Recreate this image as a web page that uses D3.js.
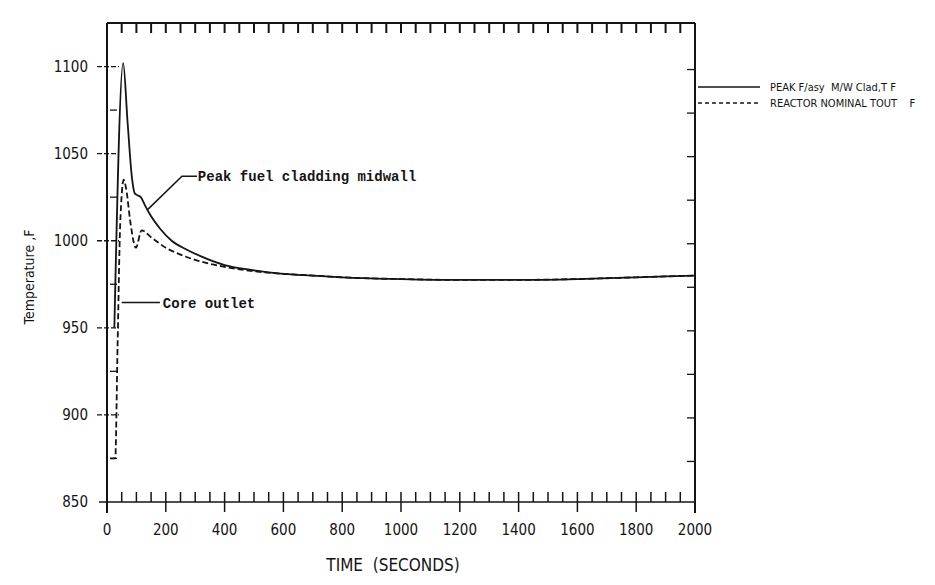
<!DOCTYPE html>
<html><head><meta charset="utf-8">
<script src="https://cdn.jsdelivr.net/npm/d3@7"></script>
<style>body{margin:0;background:#fff}svg{display:block}text{white-space:pre}</style>
</head><body>
<svg id="c" width="935" height="585"></svg>
<script>
const cladTime = [25,55,70,85,95,105,115,130,150,180,220,270,320,400,500,600,700,800,1000,1200,1400,1600,1800,2000];
const cladTemp = [950,1102,1068,1036,1027,1026,1025,1020,1014,1007,1000,995,991,986,983,981,980,979,978,977.5,977.5,978,979,980];
const outTime = [12,28,36,45,57,65,80,98,118,150,200,250,300,400,500,600,700,800,1000,1200,1400,1600,1800,2000];
const outTemp = [875,875,940,1010,1035,1030,1010,996,1006,1002,996,992,989,985,982.5,981,980,979,978,977.5,977.5,978,979,980];
const xTicks = [0,200,400,600,800,1000,1200,1400,1600,1800,2000];
const yTicks = [850,900,950,1000,1050,1100];
const legendLabels = ["PEAK F/asy  M/W Clad,T F","REACTOR NOMINAL TOUT    F"];
const annoLabels = ["Peak fuel cladding midwall","Core outlet"];

const svg = d3.select("#c");
const x = d3.scaleLinear().domain([0,2000]).range([107,695]);
const y = d3.scaleLinear().domain([850,1125]).range([502,23]);
const ink = "#141414";
const numFont = "'Liberation Sans Narrow','Arial Narrow','DejaVu Sans Condensed',sans-serif";
const monoFont = "'Liberation Mono','DejaVu Sans Mono',monospace";

// frame
const g = svg.append("g").attr("stroke", ink).attr("fill","none");
g.append("line").attr("x1",x(0)).attr("x2",x(0)).attr("y1",y(1125)).attr("y2",y(850)+11).attr("stroke-width",2);
g.append("line").attr("x1",x(2000)).attr("x2",x(2000)).attr("y1",y(1125)).attr("y2",y(850)+11).attr("stroke-width",2);
g.append("line").attr("x1",x(0)).attr("x2",x(2000)).attr("y1",y(1125)).attr("y2",y(1125)).attr("stroke-width",2);
g.append("line").attr("x1",x(0)-8).attr("x2",x(2000)).attr("y1",y(850)).attr("y2",y(850)).attr("stroke-width",1.5);

// minor ticks every 50 s
const minorX = d3.range(50,2000,50);
minorX.forEach(t=>{
  const major = t % 200 === 0;
  g.append("line").attr("x1",x(t)).attr("x2",x(t))
    .attr("y1", major ? y(850)+10 : y(850)).attr("y2", y(850)-10).attr("stroke-width",1.5);
  g.append("line").attr("x1",x(t)).attr("x2",x(t))
    .attr("y1", y(1125)).attr("y2", y(1125)+10).attr("stroke-width",2);
});

// y ticks
d3.range(875,1125,25).forEach(v=>{
  const major = v % 50 === 0;
  if (major) {
    g.append("line").attr("x1",x(0)-10).attr("x2",x(0)+12).attr("y1",y(v)).attr("y2",y(v)).attr("stroke-width",1.3).attr("stroke-dasharray","5,2");
  } else {
    g.append("line").attr("x1",x(0)+3).attr("x2",x(0)+10).attr("y1",y(v)).attr("y2",y(v)).attr("stroke-width",1.3);
  }
  g.append("line").attr("x1",x(2000)-8).attr("x2",x(2000)).attr("y1",y(v)+3).attr("y2",y(v)+3).attr("stroke-width",1.3);
});

// tick labels
svg.append("g").selectAll("text").data(yTicks).join("text")
  .attr("x", x(0)-19).attr("y", d=>y(d)+5).attr("text-anchor","end")
  .attr("font-family",numFont).attr("font-size",15).attr("fill",ink).text(d=>d);
svg.append("g").selectAll("text").data(xTicks).join("text")
  .attr("x", d=>x(d)).attr("y", 535).attr("text-anchor","middle")
  .attr("font-family",numFont).attr("font-size",15).attr("fill",ink).text(d=>d);

svg.append("text").attr("x", x(1000)-8).attr("y", 571).attr("text-anchor","middle")
  .attr("font-family",numFont).attr("font-size",17).attr("fill",ink).text("TIME  (SECONDS)");
svg.append("text").attr("transform","translate(34,277) rotate(-90)").attr("text-anchor","middle")
  .attr("font-family","'DejaVu Sans Condensed','DejaVu Sans',sans-serif").attr("font-size",14).attr("fill",ink).text("Temperature ,F");

// curves
const line = d3.line().x(d=>x(d[0])).y(d=>y(d[1])).curve(d3.curveMonotoneX);
svg.append("path").datum(cladTime.map((t,i)=>[t,cladTemp[i]])).attr("d",line)
  .attr("fill","none").attr("stroke",ink).attr("stroke-width",1.8);
svg.append("path").datum(outTime.map((t,i)=>[t,outTemp[i]])).attr("d",line)
  .attr("fill","none").attr("stroke",ink).attr("stroke-width",1.8).attr("stroke-dasharray","6,3");

// annotations
const a = svg.append("g").attr("stroke",ink).attr("fill","none").attr("stroke-width",1.5);
a.append("polyline").attr("points", `${x(139)},${y(1018)} ${x(255)},${y(1037)} ${x(306)},${y(1037)}`);
a.append("line").attr("x1",x(50)).attr("x2",x(180)).attr("y1",y(964.5)).attr("y2",y(964.5));
svg.append("text").attr("x",x(309)).attr("y",y(1037)+5).attr("font-family",monoFont).attr("font-weight","bold")
  .attr("font-size",14).attr("fill",ink).text(annoLabels[0]);
svg.append("text").attr("x",x(190)).attr("y",y(964.5)+5).attr("font-family",monoFont).attr("font-weight","bold")
  .attr("font-size",14).attr("fill",ink).text(annoLabels[1]);

// legend
const lg = svg.append("g");
[0,1].forEach(i=>{
  const yy = 87 + i*16;
  lg.append("line").attr("x1",698).attr("x2",760).attr("y1",yy).attr("y2",yy)
    .attr("stroke",ink).attr("stroke-width",1.3).attr("stroke-dasharray", i ? "4,3" : null);
  lg.append("text").attr("x",770).attr("y",yy+4).attr("font-family",numFont).attr("font-size",11)
    .attr("fill",ink).text(legendLabels[i]);
});
</script>
</body></html>
